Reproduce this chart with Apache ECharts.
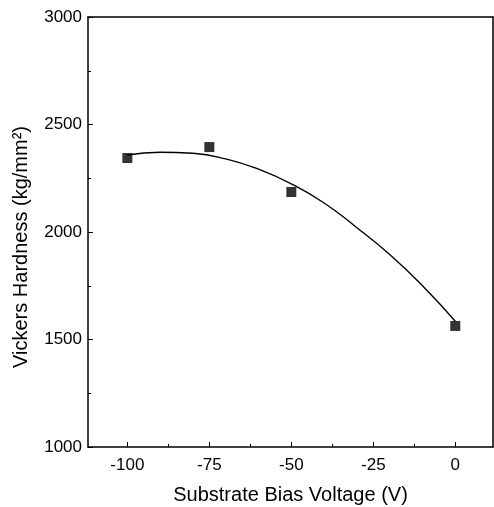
<!DOCTYPE html>
<html>
<head>
<meta charset="utf-8">
<script src="https://cdn.jsdelivr.net/npm/echarts@6/dist/echarts.min.js"></script>
<style>
html, body { margin: 0; padding: 0; background: #fff; }
#main { width: 494px; height: 507px; }
</style>
</head>
<body>
<div id="main"></div>
<script>
// measured points
const biasV = [-100, -75, -50, 0];
const hardness = [2344, 2395, 2186, 1563];

// fitted curve
const fitV = [-100, -90, -80, -70, -60, -50, -40, -30, -20, -10, 0];
const fitH = [2358, 2371, 2366, 2340, 2292, 2224, 2135, 2020, 1895, 1750, 1585];

const xMajor = [-100, -75, -50, -25, 0];
const xMinor = [-87.5, -62.5, -37.5, -12.5];

const font = 'Liberation Sans, Arial, sans-serif';

const chart = echarts.init(document.getElementById('main'));

const option = {
    animation: false,
    backgroundColor: '#fff',
    grid: { left: 88, top: 17, right: 1, bottom: 60, outerBoundsMode: 'none', containLabel: false },
    xAxis: [
        {
            type: 'value', min: -112, max: 11.5, position: 'bottom',
            name: 'Substrate Bias Voltage (V)', nameLocation: 'middle', nameGap: 38,
            nameTextStyle: { color: '#000', fontSize: 20, fontFamily: font },
            axisLine: { show: true, onZero: false, lineStyle: { color: '#000', width: 1.5 } },
            axisTick: { show: true, inside: true, length: 5, customValues: xMajor, lineStyle: { color: '#000' } },
            axisLabel: { show: true, customValues: xMajor, color: '#000', fontSize: 17, fontFamily: font, margin: 10 },
            splitLine: { show: false }
        },
        {
            type: 'value', min: -112, max: 11.5, position: 'bottom',
            axisLine: { show: false, onZero: false },
            axisTick: { show: true, inside: true, length: 3, customValues: xMinor, lineStyle: { color: '#000' } },
            axisLabel: { show: false },
            splitLine: { show: false }
        },
        {
            type: 'value', min: -112, max: 11.5, position: 'top',
            axisLine: { show: true, onZero: false, lineStyle: { color: '#000', width: 1.5 } },
            axisTick: { show: false }, axisLabel: { show: false }, splitLine: { show: false }
        }
    ],
    yAxis: [
        {
            type: 'value', min: 1000, max: 3000, interval: 500, position: 'left',
            name: 'Vickers Hardness (kg/mm²)', nameLocation: 'middle', nameGap: 57,
            nameTextStyle: { color: '#000', fontSize: 20, fontFamily: font, padding: [0, 30, 0, 0] },
            axisLine: { show: true, onZero: false, lineStyle: { color: '#000', width: 1.5 } },
            axisTick: { show: true, inside: true, length: 5, lineStyle: { color: '#000' } },
            minorTick: { show: true, splitNumber: 2, length: 3, lineStyle: { color: '#000' } },
            axisLabel: { color: '#000', fontSize: 17, fontFamily: font, margin: 6, formatter: v => String(v) },
            splitLine: { show: false }
        },
        {
            type: 'value', min: 1000, max: 3000, position: 'right',
            axisLine: { show: true, onZero: false, lineStyle: { color: '#000', width: 1.5 } },
            axisTick: { show: false }, axisLabel: { show: false }, splitLine: { show: false }
        }
    ],
    series: [
        {
            type: 'line',
            smooth: true,
            showSymbol: false,
            data: fitV.map((v, i) => [v, fitH[i]]),
            lineStyle: { color: '#000', width: 1.4 }
        },
        {
            type: 'scatter',
            symbol: 'rect',
            symbolSize: 10,
            data: biasV.map((v, i) => [v, hardness[i]]),
            itemStyle: { color: '#000' }
        }
    ]
};
chart.setOption(option);
</script>
</body>
</html>
